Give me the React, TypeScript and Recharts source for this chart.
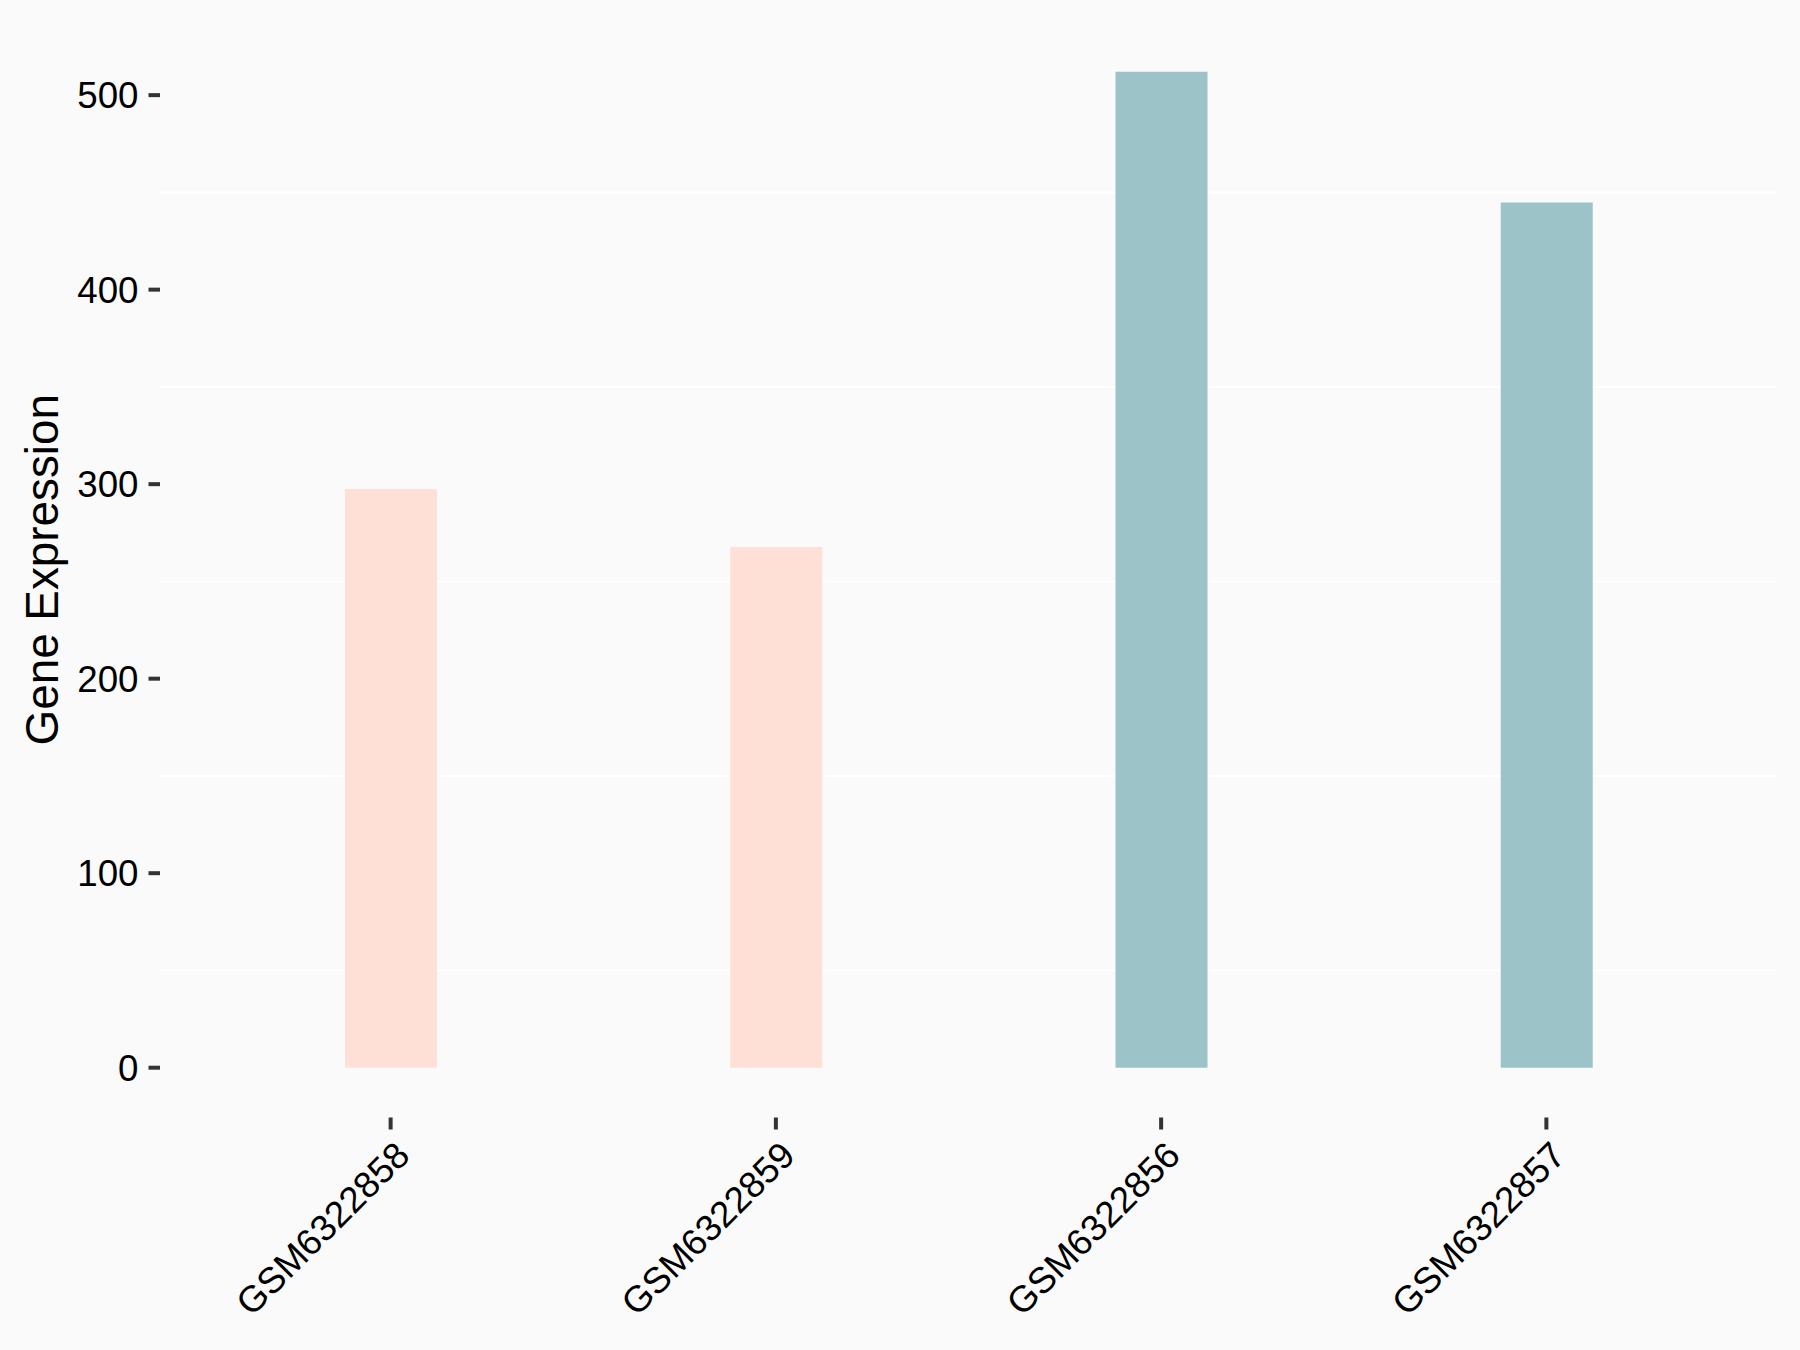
import React from 'react';
import { BarChart, Bar, XAxis, YAxis, CartesianGrid, Cell } from 'recharts';

const samples = ['GSM6322858', 'GSM6322859', 'GSM6322856', 'GSM6322857'];
const expression = [297.5, 267.7, 512, 444.8];
const groupColors = ['#FFE0D6', '#FFE0D6', '#9CC4C8', '#9CC4C8'];
const yTicks = [0, 100, 200, 300, 400, 500];
const minorGrid = [50, 150, 250, 350, 450];
const yDomain = [-25.6, 537.6];

const data = samples.map((s, i) => ({ sample: s, value: expression[i], color: groupColors[i] }));

const FONT = '"Liberation Sans", Arial, sans-serif';

const XTick = (props: any) => {
  const { x, y, payload } = props;
  const px = x + 21;
  const py = y + 28;
  return (
    <text
      x={px}
      y={py}
      transform={`rotate(-45 ${px} ${py})`}
      textAnchor="end"
      fontFamily={FONT}
      fontSize={36.7}
      fill="#000"
    >
      {payload.value}
    </text>
  );
};

const YTick = (props: any) => {
  const { x, y, payload } = props;
  return (
    <text x={x} y={y} dy="0.36em" textAnchor="end" fontFamily={FONT} fontSize={36.7} fill="#000">
      {payload.value}
    </text>
  );
};

const gridGen = (args: any) => {
  const { yAxis, offset } = args || {};
  if (yAxis && typeof yAxis.scale === 'function') return minorGrid.map((v) => yAxis.scale(v));
  const top = offset?.top ?? 22;
  const h = offset?.height ?? 1095.5;
  return minorGrid.map((v) => top + ((yDomain[1] - v) / (yDomain[1] - yDomain[0])) * h);
};

export default function App() {
  return (
    <div style={{ position: 'absolute', left: 0, top: 0, width: 1800, height: 1350, background: '#FAFAFA' }}>
      <BarChart
        width={1800}
        height={1350}
        data={data}
        margin={{ top: 22, right: 23, bottom: 0, left: 0 }}
      >
        <CartesianGrid
          vertical={false}
          stroke="#FFFFFF"
          strokeWidth={2}
          horizontalCoordinatesGenerator={gridGen}
        />
        <XAxis
          dataKey="sample"
          type="category"
          padding={{ left: 38, right: 38 }}
          axisLine={false}
          tickLine={{ stroke: '#333333', strokeWidth: 4 }}
          tickSize={12}
          tickMargin={0}
          height={232.5}
          interval={0}
          tick={<XTick />}
        />
        <YAxis
          type="number"
          domain={yDomain}
          ticks={yTicks}
          width={160}
          axisLine={false}
          tickLine={{ stroke: '#333333', strokeWidth: 4 }}
          tickSize={11.5}
          tickMargin={10}
          tick={<YTick />}
          label={{
            content: (p: any) => {
              const vb = p.viewBox || {};
              const cy = (vb.y ?? 22) + (vb.height ?? 1095.5) / 2;
              return (
                <text
                  x={58}
                  y={cy}
                  transform={`rotate(-90 58 ${cy})`}
                  textAnchor="middle"
                  fontFamily={FONT}
                  fontSize={45.8}
                  fill="#000"
                >
                  Gene Expression
                </text>
              );
            },
          }}
        />
        <Bar dataKey="value" barSize={92} isAnimationActive={false}>
          {data.map((d, i) => (
            <Cell key={i} fill={d.color} />
          ))}
        </Bar>
      </BarChart>
    </div>
  );
}
